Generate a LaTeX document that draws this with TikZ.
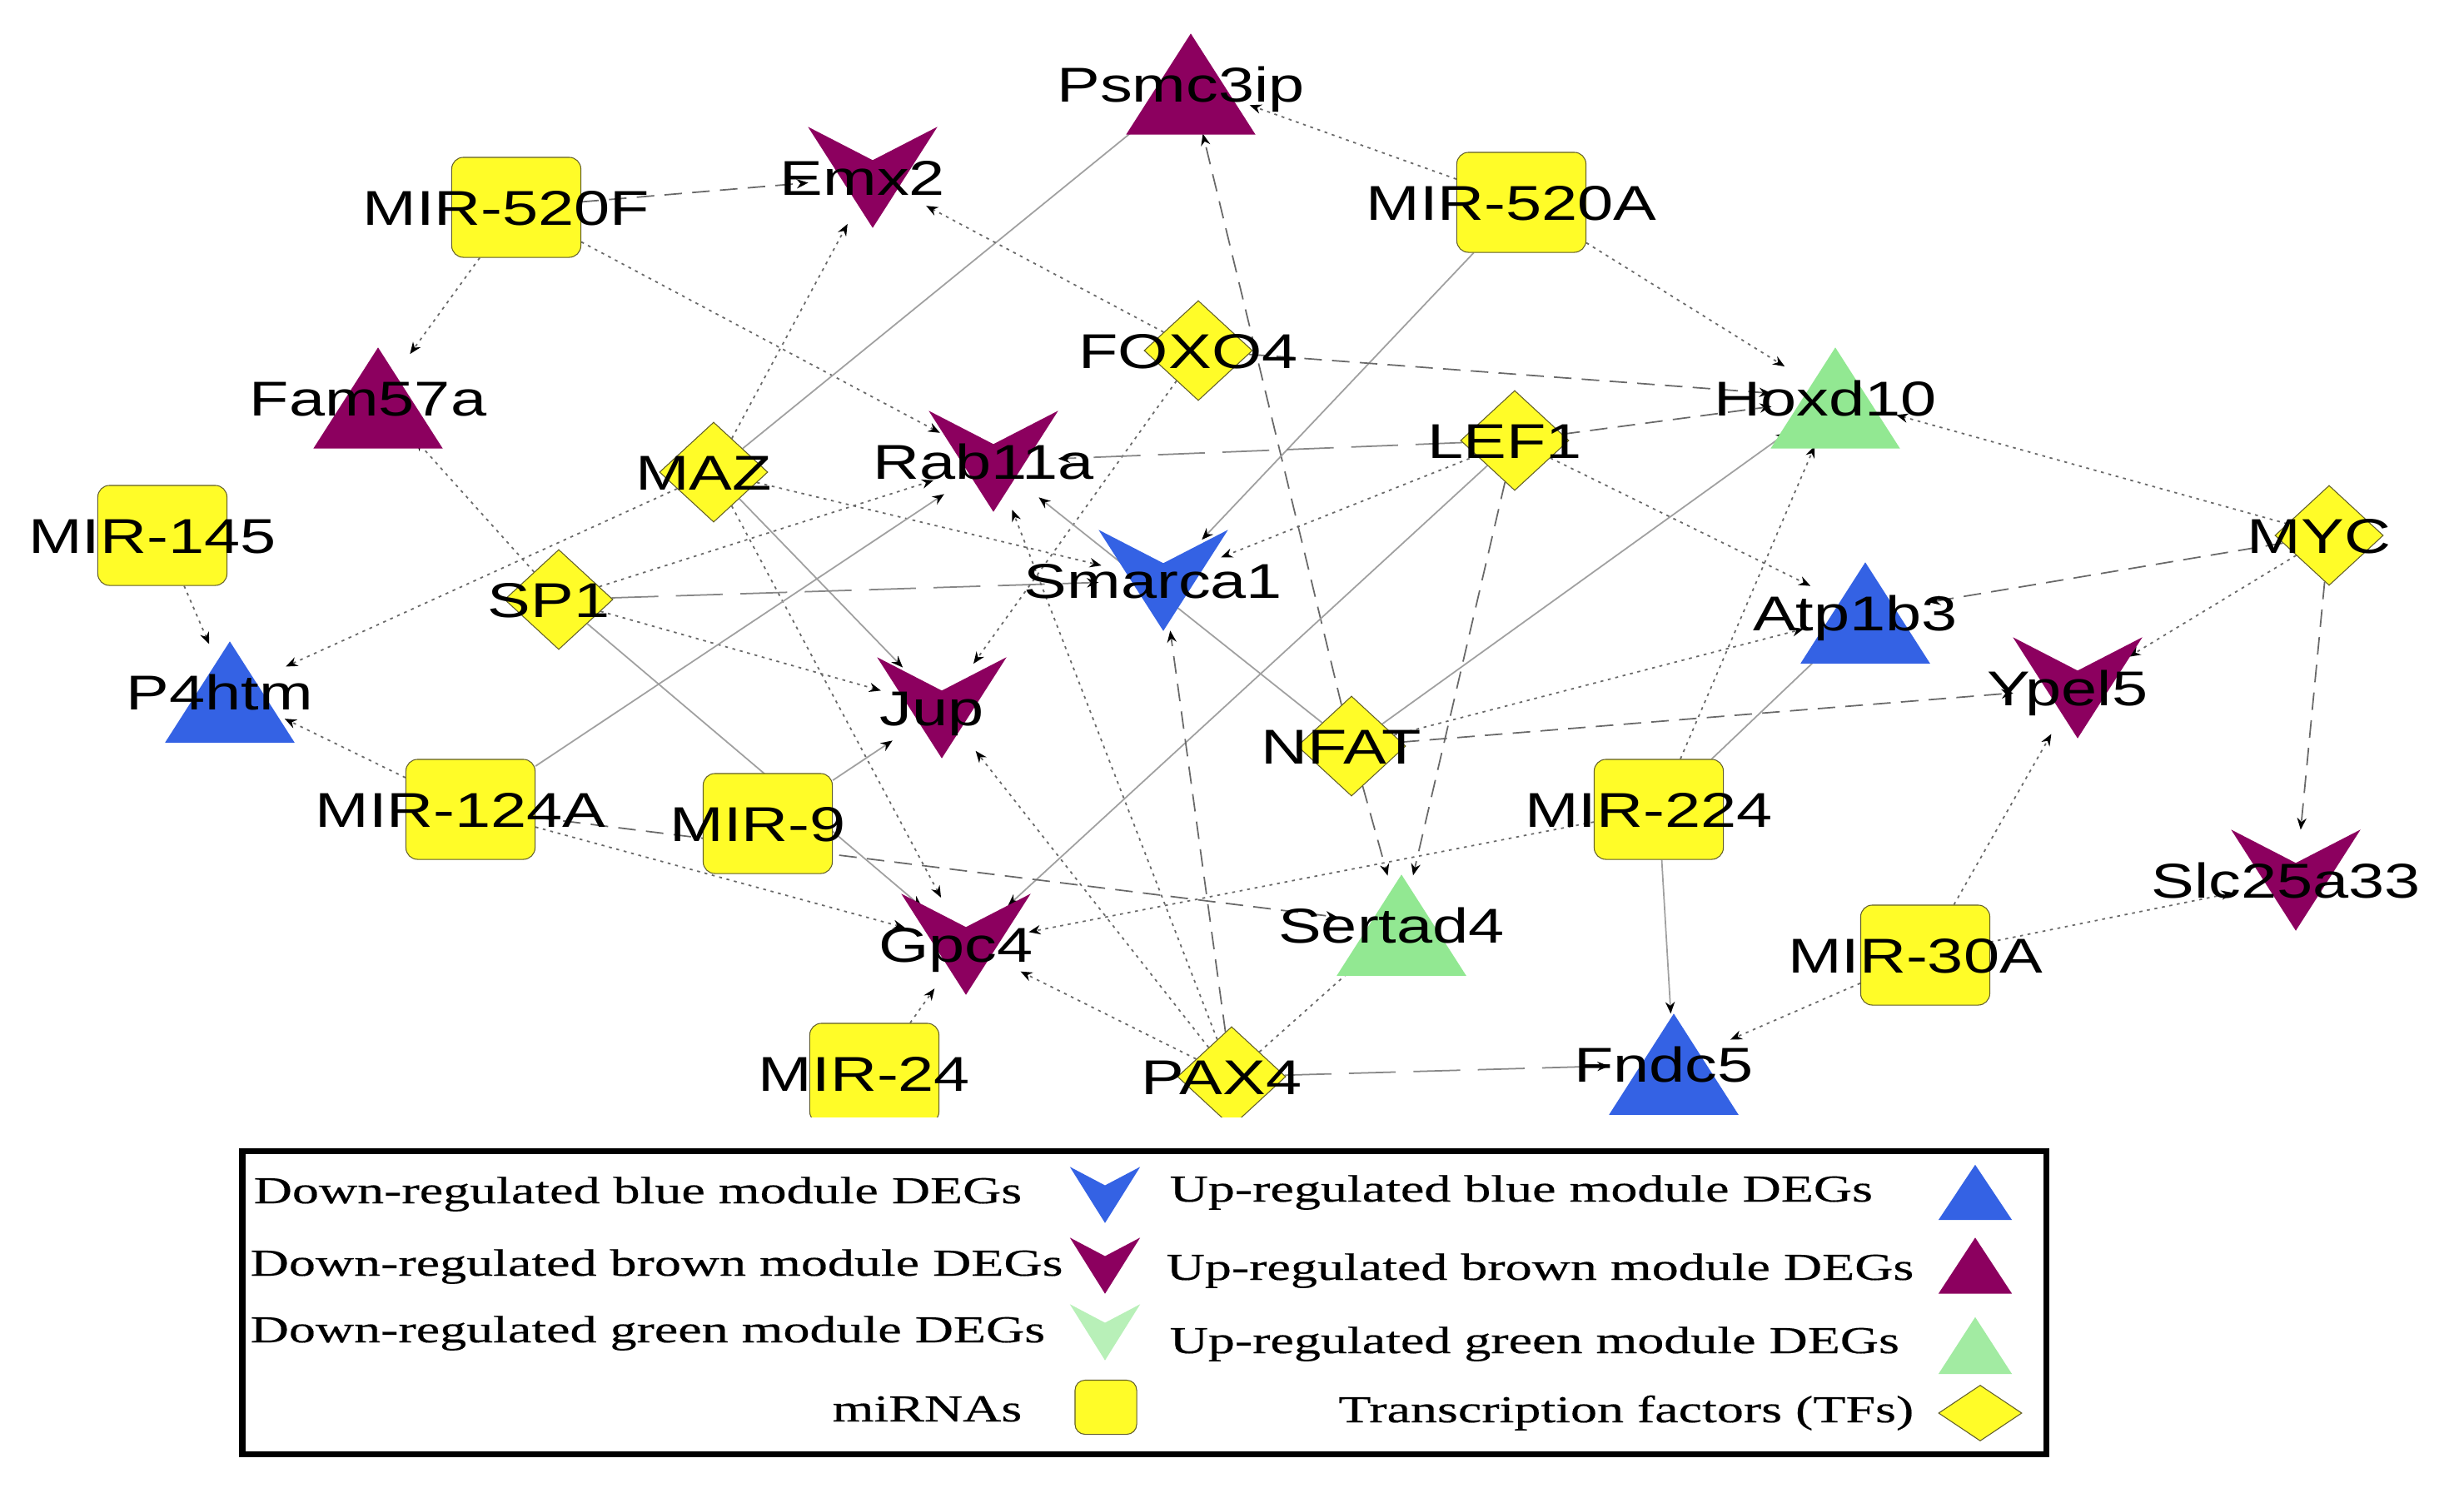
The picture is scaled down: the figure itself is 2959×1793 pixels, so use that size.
\documentclass[tikz,border=0pt]{standalone}
\usepackage{fontspec}
\usepackage{tikz}
\usetikzlibrary{shapes.geometric, % losanges, ellipses
           arrows.meta,
           calc,
           positioning}
\pgfdeclarelayer{background}
\pgfsetlayers{background,main}
\newfontfamily\lblfont[FakeStretch=1.32]{Liberation Sans}
\newfontfamily\legfont[FakeStretch=1.4,FakeBold=0.4]{Liberation Serif}
\definecolor{brownmod}{RGB}{140,0,95}
\definecolor{bluemod}{RGB}{52,98,228}
\definecolor{greenmod}{RGB}{146,232,146}
\definecolor{mirfill}{RGB}{255,252,40}
\definecolor{edgegray}{RGB}{105,105,105}
\definecolor{solidgray}{RGB}{160,160,160}
\tikzset{
  gene/.style={ellipse, minimum width=1.54cm, minimum height=1.2cm, inner sep=0pt},
  upgene/.style={gene, append after command={\pgfextra{\fill[#1] (\tikzlastnode.north) -- (\tikzlastnode.south -| \tikzlastnode.east) -- (\tikzlastnode.south -| \tikzlastnode.west) -- cycle;}}},
  downgene/.style={gene, append after command={\pgfextra{\fill[#1] (\tikzlastnode.north -| \tikzlastnode.west) -- ($(\tikzlastnode.north)!0.33!(\tikzlastnode.south)$) -- (\tikzlastnode.north -| \tikzlastnode.east) -- (\tikzlastnode.south) -- cycle;}}},
  mirna/.style={rectangle, rounded corners=0.14cm, fill=mirfill, draw=olive!60!black, line width=0.3pt, minimum width=1.55cm, minimum height=1.2cm, inner sep=0pt},
  tf/.style={diamond, fill=mirfill, draw=olive!60!black, line width=0.3pt, minimum width=1.3cm, minimum height=1.2cm, inner sep=0pt},
  lbl/.style={font=\lblfont\fontsize{16.7}{20}\selectfont, anchor=base, xshift=-0.12cm, yshift=-0.21cm, inner sep=0pt},
  leg/.style={font=\legfont\fontsize{13}{16}\selectfont, inner sep=0pt},
  link/.style={line width=0.5pt, -{Stealth[length=4pt, width=3.2pt, color=black]}},
  dotlink/.style={link, draw=edgegray, dash pattern=on 1pt off 1.6pt},
  dashlink/.style={link, draw=edgegray, dash pattern=on 6pt off 3.5pt},
  longlink/.style={link, draw=edgegray!80, dash pattern=on 16pt off 6pt},
  solidlink/.style={link, draw=solidgray}
}
\begin{document}
\begin{tikzpicture}[x=0.01cm, y=-0.01cm]
\useasboundingbox (0,0) rectangle (2959,1793);
\begin{pgfonlayer}{background}
\fill[white] (0,0) rectangle (2959,1793);
\end{pgfonlayer}
\begin{scope}
\clip (0,0) rectangle (2959,1341);
% miRNAs
\node[mirna] (m520f) at (620,249) {};
\node[mirna] (m520a) at (1827,243) {};
\node[mirna] (m145) at (195,643) {};
\node[mirna] (m124a) at (565,972) {};
\node[mirna] (m9) at (922,989) {};
\node[mirna] (m224) at (1992,972) {};
\node[mirna] (m30a) at (2312,1147) {};
\node[mirna] (m24) at (1050,1289) {};
% TFs
\node[tf] (foxo) at (1439,421) {};
\node[tf] (lef) at (1819,529) {};
\node[tf] (maz) at (857,567) {};
\node[tf] (myc) at (2797,643) {};
\node[tf] (sp) at (671,720) {};
\node[tf] (nfat) at (1623,896) {};
\node[tf] (pax) at (1479,1293) {};
% DEGs
\node[upgene=brownmod] (psmc) at (1430,101) {};
\node[downgene=brownmod] (emx) at (1048,213) {};
\node[upgene=brownmod] (fam) at (454,478) {};
\node[upgene=greenmod] (hox) at (2204,478) {};
\node[downgene=brownmod] (rab) at (1193,554) {};
\node[downgene=bluemod] (sma) at (1397,697) {};
\node[upgene=bluemod] (atp) at (2240,736) {};
\node[upgene=bluemod] (p4h) at (276,831) {};
\node[downgene=brownmod] (jup) at (1131,850) {};
\node[downgene=brownmod] (ype) at (2495,826) {};
\node[downgene=brownmod] (slc) at (2757,1057) {};
\node[upgene=greenmod] (ser) at (1683,1111) {};
\node[downgene=brownmod] (gpc) at (1160,1134) {};
\node[upgene=bluemod] (fnd) at (2010,1278) {};
\end{scope}
\begin{pgfonlayer}{background}
\draw[dashlink] (m520f) -- (emx);
\draw[dotlink] (m520f) -- (fam);
\draw[dotlink] (m520f) -- (rab);
\draw[dotlink] (maz) -- (emx);
\draw[solidlink] (maz) -- (psmc);
\draw[dotlink] (foxo) -- (emx);
\draw[dotlink] (m520a) -- (psmc);
\draw[dashlink] (nfat) -- (psmc);
\draw[dotlink] (m520a) -- (hox);
\draw[solidlink] (m520a) -- (sma);
\draw[dashlink] (foxo) -- (hox);
\draw[dotlink] (foxo) -- (jup);
\draw[dashlink] (lef) -- (hox);
\draw[dotlink] (myc) -- (hox);
\draw[solidlink] (nfat) -- (hox);
\draw[dotlink] (m224) -- (hox);
\draw[longlink] (lef) -- (rab);
\draw[dotlink] (lef) -- (sma);
\draw[solidlink] (lef) -- (gpc);
\draw[dashlink] (lef) -- (ser);
\draw[dotlink] (lef) -- (atp);
\draw[dotlink] (maz) -- (p4h);
\draw[dotlink] (maz) -- (sma);
\draw[solidlink] (maz) -- (jup);
\draw[dotlink] (maz) -- (gpc);
\draw[dotlink] (sp) -- (fam);
\draw[dotlink] (sp) -- (rab);
\draw[longlink] (sp) -- (sma);
\draw[dotlink] (sp) -- (jup);
\draw[solidlink] (sp) -- (gpc);
\draw[solidlink] (m124a) -- (rab);
\draw[dotlink] (m124a) -- (p4h);
\draw[dotlink] (m124a) -- (gpc);
\draw[dashlink] (m124a) -- (ser);
\draw[dotlink] (m145) -- (p4h);
\draw[solidlink] (m9) -- (jup);
\draw[solidlink] (nfat) -- (rab);
\draw[dotlink] (pax) -- (rab);
\draw[dashlink] (pax) -- (sma);
\draw[dotlink] (pax) -- (jup);
\draw[dotlink] (pax) -- (gpc);
\draw[dotlink] (pax) -- (ser);
\draw[longlink] (pax) -- (fnd);
\draw[dotlink] (m24) -- (gpc);
\draw[dotlink] (m224) -- (gpc);
\draw[solidlink] (m224) -- (atp);
\draw[solidlink] (m224) -- (fnd);
\draw[dotlink] (nfat) -- (atp);
\draw[dashlink] (nfat) -- (ype);
\draw[dashlink] (nfat) -- (ser);
\draw[dashlink] (myc) -- (atp);
\draw[dotlink] (myc) -- (ype);
\draw[dashlink] (myc) -- (slc);
\draw[dotlink] (m30a) -- (ype);
\draw[dotlink] (m30a) -- (slc);
\draw[dotlink] (m30a) -- (fnd);
\end{pgfonlayer}
% labels
\node[lbl] (m520f-t) at (m520f) {MIR-520F};
\node[lbl] (m520a-t) at (m520a) {MIR-520A};
\node[lbl] (m145-t) at (m145) {MIR-145};
\node[lbl] (m124a-t) at (m124a) {MIR-124A};
\node[lbl] (m9-t) at (m9) {MIR-9};
\node[lbl] (m224-t) at (m224) {MIR-224};
\node[lbl] (m30a-t) at (m30a) {MIR-30A};
\node[lbl] (m24-t) at (m24) {MIR-24};
\node[lbl] (foxo-t) at (foxo) {FOXO4};
\node[lbl] (lef-t) at (lef) {LEF1};
\node[lbl] (maz-t) at (maz) {MAZ};
\node[lbl] (myc-t) at (myc) {MYC};
\node[lbl] (sp-t) at (sp) {SP1};
\node[lbl] (nfat-t) at (nfat) {NFAT};
\node[lbl] (pax-t) at (pax) {PAX4};
\node[lbl] (psmc-t) at (psmc) {Psmc3ip};
\node[lbl] (emx-t) at (emx) {Emx2};
\node[lbl] (fam-t) at (fam) {Fam57a};
\node[lbl] (hox-t) at (hox) {Hoxd10};
\node[lbl] (rab-t) at (rab) {Rab11a};
\node[lbl] (sma-t) at (sma) {Smarca1};
\node[lbl] (atp-t) at (atp) {Atp1b3};
\node[lbl] (p4h-t) at (p4h) {P4htm};
\node[lbl] (jup-t) at (jup) {Jup};
\node[lbl] (ype-t) at (ype) {Ypel5};
\node[lbl] (slc-t) at (slc) {Slc25a33};
\node[lbl] (ser-t) at (ser) {Sertad4};
\node[lbl] (gpc-t) at (gpc) {Gpc4};
\node[lbl] (fnd-t) at (fnd) {Fndc5};
% legend
\draw[line width=0.07cm] (291,1382) rectangle (2457,1746);
\node[leg, anchor=base west] (l-dbl) at (304,1445) {Down-regulated blue module DEGs};
\node[downgene=bluemod, minimum width=0.83cm, minimum height=0.66cm] (s-dbl) at (1327,1435) {};
\node[leg, anchor=base west] (l-ubl) at (1404,1443) {Up-regulated blue module DEGs};
\node[upgene=bluemod, minimum width=0.87cm, minimum height=0.65cm] (s-ubl) at (2372,1432) {};
\node[leg, anchor=base west] (l-dbr) at (300,1532) {Down-regulated brown module DEGs};
\node[downgene=brownmod, minimum width=0.83cm, minimum height=0.66cm] (s-dbr) at (1327,1520) {};
\node[leg, anchor=base west] (l-ubr) at (1400,1537) {Up-regulated brown module DEGs};
\node[upgene=brownmod, minimum width=0.87cm, minimum height=0.66cm] (s-ubr) at (2372,1520) {};
\node[leg, anchor=base west] (l-dgr) at (300,1612) {Down-regulated green module DEGs};
\node[downgene=greenmod!65!white, minimum width=0.83cm, minimum height=0.66cm] (s-dgr) at (1327,1600) {};
\node[leg, anchor=base west] (l-ugr) at (1404,1625) {Up-regulated green module DEGs};
\node[upgene=greenmod!85!white, minimum width=0.87cm, minimum height=0.67cm] (s-ugr) at (2372,1616) {};
\node[leg, anchor=base east] (l-mir) at (1228,1707) {miRNAs};
\node[mirna, minimum width=0.74cm, minimum height=0.65cm, rounded corners=0.12cm] (s-mir) at (1328,1690) {};
\node[leg, anchor=base east] (l-tf) at (2299,1708) {Transcription factors (TFs)};
\node[tf, minimum width=1.0cm, minimum height=0.67cm] (s-tf) at (2378,1697) {};
\end{tikzpicture}
\end{document}
